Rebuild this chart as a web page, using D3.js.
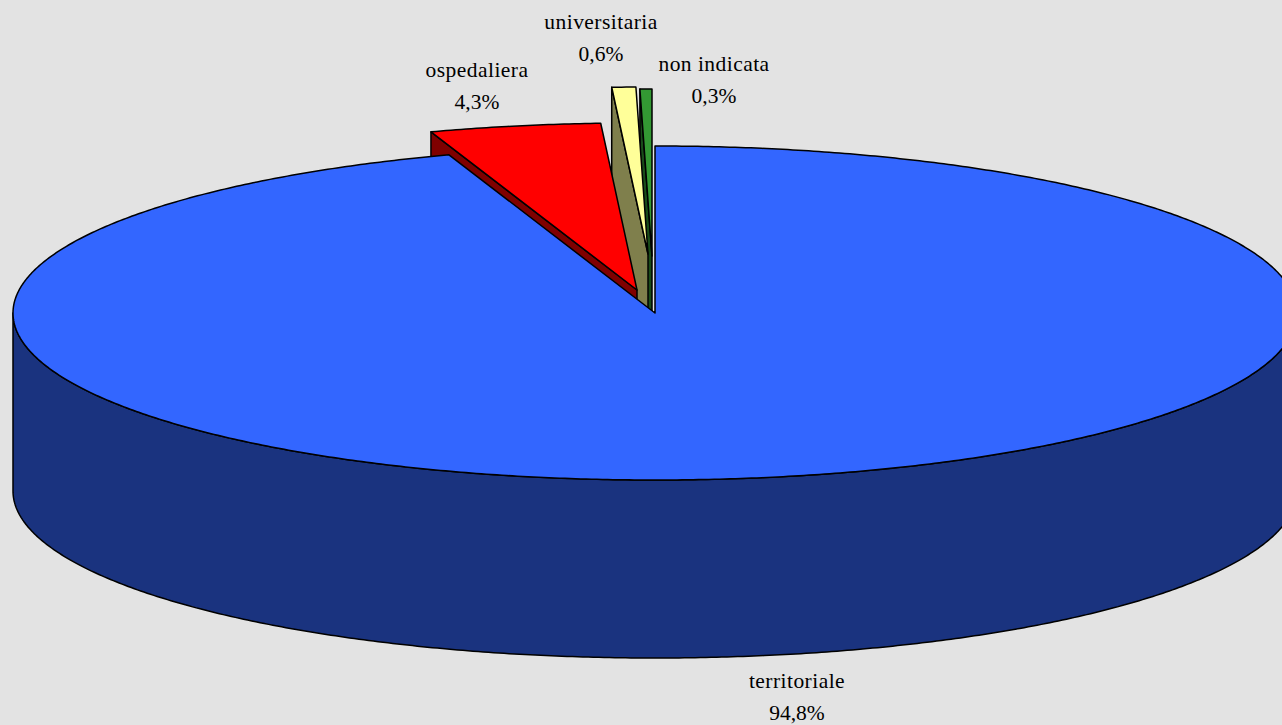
<!DOCTYPE html>
<head>
    <meta charset="utf-8" />
    <title>Distribuzione</title>
    <script src="https://d3js.org/d3.v7.min.js"></script>
    <style>
        body { margin: 0; background: #e3e3e3; }
        svg { display: block; }
        text { font-family: "Liberation Serif", serif; font-size: 21.5px; fill: #000; text-anchor: middle; }
        text.name { letter-spacing: 0.45px; }
    </style>
</head>
<body>
<svg width="1282" height="725"></svg>
<script>
    let categories = ["territoriale", "ospedaliera", "universitaria", "non indicata"];
    let values = [94.8, 4.3, 0.6, 0.3];
    let valueLabels = ["94,8%", "4,3%", "0,6%", "0,3%"];

    // style and layout per slice, same order as categories
    let topColors = ["#3366ff", "#ff0000", "#ffff99", "#339933"];
    let sideColors = ["#1a337f", "#7f0000", "#7f7f4c", "#194c19"];
    let explode = [[0, 0], [-18, -23], [-7, -59], [-3, -57]];
    let labelPos = [[797, 688], [477, 77], [601, 29], [714, 71]];

    let cx = 655, cy = 313, rx = 642, ry = 167, depth = 178, lineGap = 32;

    let svg = d3.select("svg");
    let x = d3.scaleLinear().domain([-1, 1]).range([cx - rx, cx + rx]);
    let y = d3.scaleLinear().domain([-1, 1]).range([cy - ry, cy + ry]);
    let line = d3.line().curve(d3.curveLinear);

    let slices = d3.pie().sort(null)(values).map(function (s, i) {
        return {
            start: s.startAngle, end: s.endAngle,
            top: topColors[i], side: sideColors[i],
            dx: explode[i][0], dy: explode[i][1], index: i
        };
    });

    function rim(s, a) {
        return [x(Math.sin(a)) + s.dx, y(-Math.cos(a)) + s.dy];
    }

    function arcPoints(s, a0, a1) {
        let n = Math.max(2, Math.ceil((a1 - a0) * 120));
        return d3.range(n + 1).map(function (k) { return rim(s, a0 + (a1 - a0) * k / n); });
    }

    function apex(s) {
        return [x(0) + s.dx, y(0) + s.dy];
    }

    function down(p) {
        return [p[0], p[1] + depth];
    }

    function topPath(s) {
        return line([apex(s)].concat(arcPoints(s, s.start, s.end))) + "Z";
    }

    // the cut face that looks towards the viewer
    function facePath(s) {
        let o = rim(s, s.start);
        let a = apex(s);
        return line([a, o, down(o), down(a)]) + "Z";
    }

    // front wall, only the part of the rim facing the viewer
    function wallPath(s) {
        let a0 = Math.max(s.start, Math.PI / 2);
        let a1 = Math.min(s.end, Math.PI * 1.5);
        if (a1 <= a0) return null;
        let pts = arcPoints(s, a0, a1);
        return line(pts.concat(pts.slice().reverse().map(down))) + "Z";
    }

    // back to front: small slices first, the big one covers their walls
    let order = [slices[3], slices[2], slices[1], slices[0]];

    let groups = svg.selectAll("g.slice").data(order).join("g").attr("class", "slice")
        .attr("stroke", "#000").attr("stroke-width", 1.5).attr("stroke-linejoin", "round");

    groups.filter(function (d) { return d.index > 0; }).append("path")
        .attr("fill", function (d) { return d.side; })
        .attr("d", facePath);

    groups.filter(function (d) { return wallPath(d) !== null; }).append("path")
        .attr("fill", function (d) { return d.side; })
        .attr("d", wallPath);

    groups.append("path")
        .attr("fill", function (d) { return d.top; })
        .attr("d", topPath);

    let labels = svg.selectAll("g.label").data(categories).join("g").attr("class", "label")
        .attr("transform", function (d, i) { return "translate(" + labelPos[i][0] + "," + labelPos[i][1] + ")"; });

    labels.append("text").attr("class", "name").text(function (d) { return d; });
    labels.append("text").attr("y", lineGap).text(function (d, i) { return valueLabels[i]; });
</script>
</body>
